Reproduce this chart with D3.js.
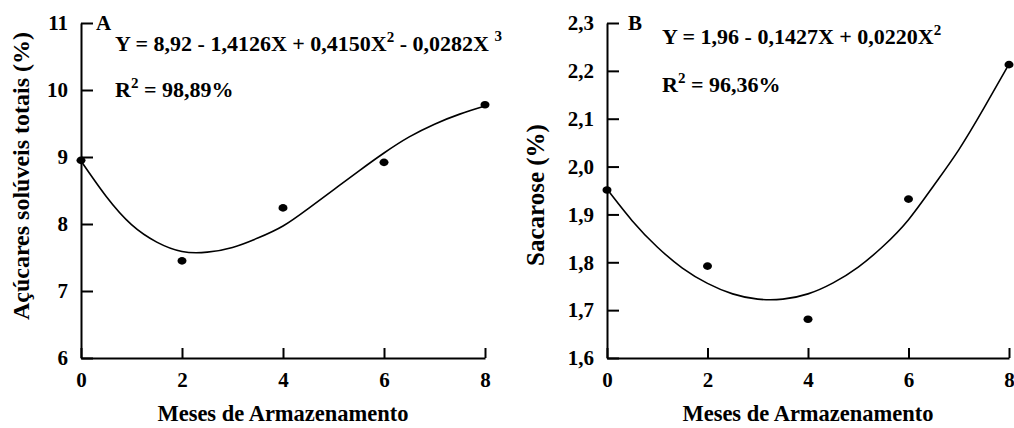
<!DOCTYPE html>
<html><head><meta charset="utf-8">
<script src="https://cdn.jsdelivr.net/npm/d3@7"></script>
<style>
html,body{margin:0;padding:0;background:#fff;}
svg{display:block;font-family:"Liberation Serif","Times New Roman",serif;font-weight:bold;}
</style></head>
<body>
<svg id="chart" width="1014" height="428"></svg>
<script>
// ---- Data ----
const months = [0, 2, 4, 6, 8];
const sugarA = [8.95, 7.45, 8.24, 8.92, 9.78];          // Açúcares solúveis totais (%)
const sucroseB = [1.951, 1.792, 1.681, 1.932, 2.213];   // Sacarose (%)
// fitted curves
const fitX = [0, 0.5, 1, 1.5, 2, 2.5, 3, 3.5, 4, 4.5, 5, 5.5, 6, 6.5, 7, 7.5, 8];
const fitA = [8.94, 8.41, 7.99, 7.73, 7.59, 7.58, 7.65, 7.79, 7.97, 8.23, 8.51, 8.79, 9.06, 9.30, 9.49, 9.64, 9.76];
const fitB = [1.953, 1.887, 1.832, 1.788, 1.756, 1.734, 1.723, 1.723, 1.734, 1.757, 1.790, 1.834, 1.889, 1.960, 2.035, 2.122, 2.214];
const xTicks = [0, 2, 4, 6, 8];
const yTicksA = [6, 7, 8, 9, 10, 11];
const yTicksB = [1.6, 1.7, 1.8, 1.9, 2.0, 2.1, 2.2, 2.3];
const xTitle = "Meses de Armazenamento";
const yTitleA = "Açúcares solúveis totais (%)";
const yTitleB = "Sacarose (%)";

const svg = d3.select("#chart");

function panel(o) {
  const x = d3.scaleLinear().domain([0, 8]).range([o.x0, o.x1]);
  const y = d3.scaleLinear().domain(o.yDomain).range([358, 23]);
  const g = svg.append("g");

  const xa = g.append("g").attr("transform", "translate(0,358)")
    .call(d3.axisBottom(x).tickValues(xTicks).tickSizeInner(-10).tickSizeOuter(0).tickPadding(14).tickFormat(d3.format("d")));
  const ya = g.append("g").attr("transform", `translate(${o.x0},0)`)
    .call(d3.axisLeft(y).tickValues(o.yTicks).tickSizeInner(-12).tickSizeOuter(0).tickPadding(13).tickFormat(o.fmt));
  [xa, ya].forEach(a => {
    a.attr("font-family", null).attr("font-size", null);
    a.selectAll("path.domain").attr("stroke", "#000").attr("stroke-width", 2);
    a.selectAll(".tick line").attr("stroke", "#000").attr("stroke-width", 2);
    a.selectAll("text").attr("fill", "#000").style("font-size", "21px")
      .style("font-family", '"Liberation Serif",serif').style("font-weight", "bold");
  });

  const line = d3.line().x((d, i) => x(fitX[i])).y(d => y(d)).curve(d3.curveNatural);
  g.append("path").datum(o.fit).attr("d", line).attr("fill", "none")
    .attr("stroke", "#000").attr("stroke-width", 1.6);

  g.selectAll("ellipse").data(o.vals).join("ellipse")
    .attr("cx", (d, i) => x(months[i])).attr("cy", d => y(d))
    .attr("rx", 4.5).attr("ry", 3.8).attr("fill", "#000");

  g.append("text").attr("x", (o.x0 + o.x1) / 2).attr("y", 421)
    .attr("text-anchor", "middle").style("font-size", "22.5px").text(xTitle);
  g.append("text").attr("transform", `translate(${o.ytx},${o.yty}) rotate(-90)`)
    .attr("text-anchor", "middle").style("font-size", o.ytSize).text(o.yTitle);

  g.append("text").attr("x", o.labelX).attr("y", 30).style("font-size", "21px").text(o.label);

  const eq = g.append("text").attr("x", o.eqX).attr("y", o.eqY).style("font-size", "22px");
  o.eq.forEach(p => {
    const t = eq.append("tspan").text(p.t);
    if (p.sup) t.style("font-size", "15px").attr("dy", -p.sup);
    if (p.down) t.attr("dy", p.down);
  });
  const r2 = g.append("text").attr("x", o.eqX).attr("y", o.eqY + o.r2dy).style("font-size", "22px");
  r2.append("tspan").text("R");
  r2.append("tspan").text("2").style("font-size", "15px").attr("dy", -9);
  r2.append("tspan").text(" = " + o.r2).attr("dy", 9);
}

const commaFmt = d => d3.format(".1f")(d).replace(".", ",");

panel({
  x0: 81, x1: 485, yDomain: [6, 11], yTicks: yTicksA, fmt: d3.format("d"),
  vals: sugarA, fit: fitA, yTitle: yTitleA, ytx: 29, yty: 176, ytSize: "24px",
  label: "A", labelX: 96, eqX: 115, eqY: 51, r2dy: 46,
  eq: [{t: "Y = 8,92 - 1,4126X + 0,4150X"}, {t: "2", sup: 9}, {t: " - 0,0282X ", down: 9},
       {t: "3", sup: 10}],
  r2: "98,89%"
});
panel({
  x0: 607, x1: 1009, yDomain: [1.6, 2.3], yTicks: yTicksB, fmt: commaFmt,
  vals: sucroseB, fit: fitB, yTitle: yTitleB, ytx: 544, yty: 195, ytSize: "25px",
  label: "B", labelX: 628, eqX: 662, eqY: 44, r2dy: 48,
  eq: [{t: "Y = 1,96 - 0,1427X + 0,0220X"}, {t: "2", sup: 9}],
  r2: "96,36%"
});
</script>
</body></html>
